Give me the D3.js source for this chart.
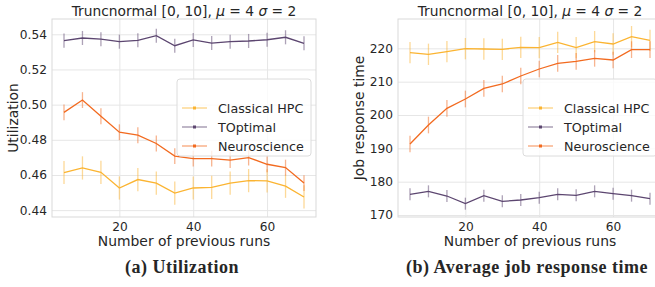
<!DOCTYPE html>
<html>
<head>
<meta charset="utf-8">
<script src="https://cdn.jsdelivr.net/npm/d3@7"></script>
<style>
  body { margin: 0; background: #fff; }
  svg { display: block; }
  text { font-family: "DejaVu Sans", sans-serif; fill: #262626; }
  .caption { font-family: "Liberation Serif", serif; font-weight: bold; letter-spacing: 0.5px; }
</style>
</head>
<body>
<div id="chart"></div>
<script>
// data
const runs = [5, 10, 15, 20, 25, 30, 35, 40, 45, 50, 55, 60, 65, 70];
const seriesNames = ["Classical HPC", "TOptimal", "Neuroscience"];
const colors = ["#fbb431", "#5c4670", "#f26a1f"];

const utilClassical = [0.4614, 0.4640, 0.4615, 0.4526, 0.4574, 0.4554, 0.4497, 0.4526, 0.4530, 0.4554, 0.4568, 0.4566, 0.4536, 0.4475];
const utilTOptimal = [0.5364, 0.5379, 0.5372, 0.5358, 0.5366, 0.5392, 0.5335, 0.5368, 0.5350, 0.5358, 0.5362, 0.5369, 0.5383, 0.5349];
const utilNeuro = [0.4956, 0.5026, 0.4934, 0.4843, 0.4826, 0.4779, 0.4707, 0.4693, 0.4693, 0.4684, 0.4699, 0.4661, 0.4642, 0.4554];
const utilErr = [0.0066, 0.0040, 0.0045];

const respClassical = [218.7, 218.2, 219.0, 219.9, 219.8, 219.7, 220.3, 220.2, 221.8, 220.2, 222.0, 221.3, 223.5, 222.4];
const respTOptimal = [176.2, 177.1, 175.7, 173.4, 175.8, 174.1, 174.5, 175.2, 176.2, 175.9, 177.1, 176.4, 175.8, 174.9];
const respNeuro = [191.3, 197.0, 202.0, 204.8, 208.0, 209.3, 211.7, 213.8, 215.5, 216.1, 217.0, 216.5, 219.6, 219.6];
const respErr = [3.2, 1.8, 2.5];

const xTicks = [20, 40, 60];
const utilTicks = [0.44, 0.46, 0.48, 0.50, 0.52, 0.54];
const respTicks = [170, 180, 190, 200, 210, 220];

const width = 655, height = 287;
const svg = d3.select("#chart").append("svg")
  .attr("width", width).attr("height", height);

function panel(opts) {
  const { left, right, top, bottom, yDomain, yTicks, yFormat, series, errs, ylabel, ylabelX, caption, captionX, legendX } = opts;
  const x = d3.scaleLinear().domain([1.75, 73.25]).range([left, right]);
  const y = d3.scaleLinear().domain(yDomain).range([bottom, top]);
  const g = svg.append("g");

  // grid
  g.append("g").attr("transform", `translate(0,${bottom})`)
    .call(d3.axisBottom(x).tickValues(xTicks).tickSize(-(bottom - top)).tickFormat(""))
    .call(a => a.select(".domain").remove())
    .call(a => a.selectAll("line").attr("stroke", "#e6e6e6").attr("stroke-width", 1));
  g.append("g").attr("transform", `translate(${left},0)`)
    .call(d3.axisLeft(y).tickValues(yTicks).tickSize(-(right - left)).tickFormat(""))
    .call(a => a.select(".domain").remove())
    .call(a => a.selectAll("line").attr("stroke", "#e6e6e6").attr("stroke-width", 1));

  // frame
  g.append("rect").attr("x", left).attr("y", top)
    .attr("width", right - left).attr("height", bottom - top)
    .attr("fill", "none").attr("stroke", "#d9d9d9").attr("stroke-width", 1);

  // tick labels
  g.append("g").attr("transform", `translate(0,${bottom})`)
    .call(d3.axisBottom(x).tickValues(xTicks).tickSize(0).tickPadding(5))
    .call(a => a.select(".domain").remove())
    .selectAll("text").attr("font-size", 12.2).attr("fill", "#262626");
  g.append("g").attr("transform", `translate(${left},0)`)
    .call(d3.axisLeft(y).tickValues(yTicks).tickSize(0).tickPadding(5).tickFormat(yFormat))
    .call(a => a.select(".domain").remove())
    .selectAll("text").attr("font-size", 12.2).attr("fill", "#262626");

  // series
  series.forEach((vals, i) => {
    const s = g.append("g");
    s.selectAll("line").data(vals).join("line")
      .attr("x1", (d, j) => x(runs[j])).attr("x2", (d, j) => x(runs[j]))
      .attr("y1", d => y(d - errs[i])).attr("y2", d => y(d + errs[i]))
      .attr("stroke", colors[i]).attr("stroke-opacity", 0.5).attr("stroke-width", 1.3);
    s.append("path").datum(vals)
      .attr("d", d3.line().x((d, j) => x(runs[j])).y(d => y(d)))
      .attr("fill", "none").attr("stroke", colors[i]).attr("stroke-width", 1.3);
  });

  // title
  const t = g.append("text").attr("x", (left + right) / 2).attr("y", 16)
    .attr("text-anchor", "middle").attr("font-size", 13.8);
  t.append("tspan").text("Truncnormal [0, 10], ");
  t.append("tspan").attr("font-style", "italic").text("μ");
  t.append("tspan").text(" = 4 ");
  t.append("tspan").attr("font-style", "italic").text("σ");
  t.append("tspan").text(" = 2");

  // axis labels
  g.append("text").attr("x", (left + right) / 2).attr("y", 245.5)
    .attr("text-anchor", "middle").attr("font-size", 13.9).text("Number of previous runs");
  g.append("text").attr("transform", `translate(${ylabelX},${(top + bottom) / 2}) rotate(-90)`)
    .attr("text-anchor", "middle").attr("font-size", 13.9).text(ylabel);

  // legend
  const lg = g.append("g").attr("transform", `translate(${legendX},79)`);
  lg.append("rect").attr("width", 134).attr("height", 77).attr("rx", 3)
    .attr("fill", "#fff").attr("fill-opacity", 0.8).attr("stroke", "#dcdcdc");
  seriesNames.forEach((name, i) => {
    const yy = 29 + i * 19;
    lg.append("line").attr("x1", 5).attr("x2", 30).attr("y1", yy).attr("y2", yy)
      .attr("stroke", colors[i]).attr("stroke-opacity", 0.6).attr("stroke-width", 1.3);
    lg.append("rect").attr("x", 16).attr("y", yy - 1.5).attr("width", 3).attr("height", 3)
      .attr("fill", colors[i]);
    lg.append("text").attr("x", 41).attr("y", yy + 4.5).attr("font-size", 12.7).text(name);
  });

  // caption
  svg.append("text").attr("class", "caption").attr("x", captionX).attr("y", 273)
    .attr("text-anchor", "middle").attr("font-size", 18).text(caption);
}

panel({
  left: 52, right: 316, top: 19, bottom: 217,
  yDomain: [0.4361, 0.5487], yTicks: utilTicks, yFormat: d3.format(".2f"),
  series: [utilClassical, utilTOptimal, utilNeuro], errs: utilErr,
  ylabel: "Utilization", ylabelX: 18, caption: "(a) Utilization", captionX: 182, legendX: 177
});

panel({
  left: 398, right: 662, top: 19, bottom: 217,
  yDomain: [169.4, 228.8], yTicks: respTicks, yFormat: d3.format("d"),
  series: [respClassical, respTOptimal, respNeuro], errs: respErr,
  ylabel: "Job response time", ylabelX: 364, caption: "(b) Average job response time", captionX: 527, legendX: 523
});
</script>
</body>
</html>
